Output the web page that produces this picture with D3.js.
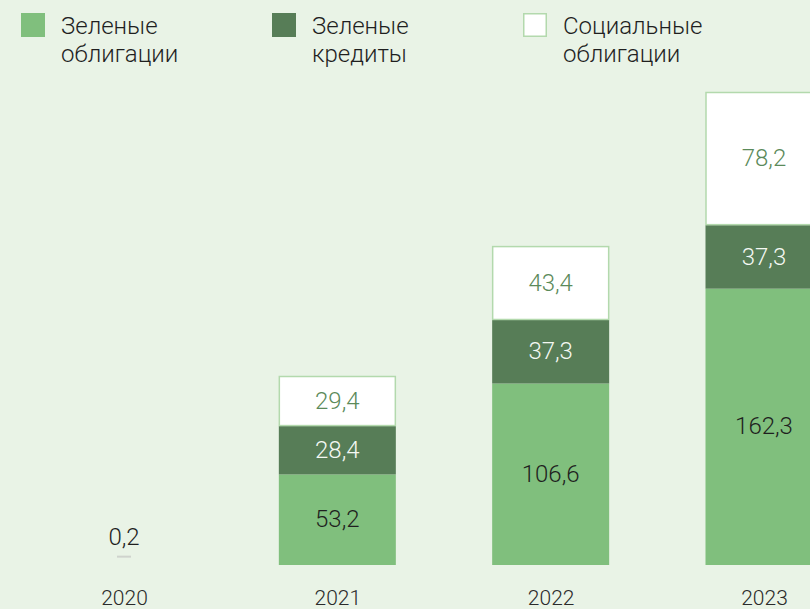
<!DOCTYPE html>
<html>
<head>
<meta charset="utf-8">
<script src="https://cdn.jsdelivr.net/npm/d3@7"></script>
<style>
  html, body { margin: 0; padding: 0; background: #e9f3e6; }
  svg { display: block; font-family: Roboto, "Noto Sans", sans-serif; }
</style>
</head>
<body>
<svg id="chart" width="810" height="609"></svg>
<script>
// Годы и объёмы по видам инструментов
const years = ["2020", "2021", "2022", "2023"];
const greenBonds = [0.2, 53.2, 106.6, 162.3];
const greenLoans = [0, 28.4, 37.3, 37.3];
const socialBonds = [0, 29.4, 43.4, 78.2];
const seriesNames = [["Зеленые", "облигации"], ["Зеленые", "кредиты"], ["Социальные", "облигации"]];

const colors = {
  bg: "#e9f3e6",
  green: "#80bf7d",
  dark: "#577d57",
  white: "#ffffff",
  border: "#b3d9ad"
};

const fmt = v => String(v).replace(".", ",");

const svg = d3.select("#chart");
svg.append("rect").attr("width", 810).attr("height", 609).attr("fill", colors.bg);

const x = d3.scalePoint().domain(years).range([124, 764]);
const y = d3.scaleLinear().domain([0, 277.8]).range([565, 92]);
const barW = 117;

const rows = years.map((yr, i) => ({ year: yr, g: greenBonds[i], k: greenLoans[i], s: socialBonds[i] }));
const stack = d3.stack().keys(["g", "k", "s"])(rows);

const segStyle = {
  g: { fill: colors.green, stroke: "none", text: "#1f1f1f" },
  k: { fill: colors.dark, stroke: "none", text: "#f4f8f3" },
  s: { fill: colors.white, stroke: colors.border, text: "#5b8a5a" }
};

stack.forEach(layer => {
  const st = segStyle[layer.key];
  const key = layer.key;
  const g = svg.append("g");
  layer.forEach(d => {
    const v = d.data[key];
    const yr = d.data.year;
    if (v <= 0) return;
    const h = y(d[0]) - y(d[1]);
    if (h < 3) {
      // очень малое значение: короткая риска и подпись над ней
      g.append("rect")
        .attr("x", x(yr) - 7).attr("y", y(d[1]) - 9)
        .attr("width", 14).attr("height", 2)
        .attr("fill", "#cfd3cd");
      g.append("text")
        .attr("x", x(yr)).attr("y", y(d[1]) - 20)
        .attr("text-anchor", "middle")
        .attr("font-size", 24)
        .attr("font-weight", 300)
        .attr("fill", "#1f1f1f")
        .text(fmt(v));
      return;
    }
    const s = st.stroke !== "none";
    g.append("rect")
      .attr("x", x(yr) - barW / 2 + (s ? 0.5 : 0))
      .attr("y", y(d[1]) + (s ? 0.5 : 0))
      .attr("width", barW - (s ? 1 : 0))
      .attr("height", h - (s ? 1 : 0))
      .attr("fill", st.fill)
      .attr("stroke", st.stroke)
      .attr("stroke-width", 1.5);
    g.append("text")
      .attr("x", x(yr))
      .attr("y", (y(d[0]) + y(d[1])) / 2 - 1)
      .attr("dy", "0.36em")
      .attr("text-anchor", "middle")
      .attr("font-size", 24)
      .attr("font-weight", 300)
      .attr("fill", st.text)
      .text(fmt(v));
  });
});

// Подписи годов
const xAxis = d3.axisBottom(x).tickSize(0).tickPadding(0);
const ax = svg.append("g").attr("transform", "translate(0,597)").call(xAxis);
ax.select(".domain").remove();
ax.selectAll("text")
  .attr("font-size", 21)
  .attr("font-weight", 300)
  .attr("fill", "#2b2b2b")
  .attr("dy", "0.36em")
  .attr("font-family", "Roboto, sans-serif");

// Легенда
const legendX = [21, 272, 523];
const legendFill = [colors.green, colors.dark, colors.white];
seriesNames.forEach((lines, i) => {
  const lg = svg.append("g").attr("transform", `translate(${legendX[i]},13)`);
  lg.append("rect")
    .attr("x", i === 2 ? 0.75 : 0).attr("y", i === 2 ? 0.75 : 0)
    .attr("width", i === 2 ? 22.5 : 24).attr("height", i === 2 ? 22.5 : 24)
    .attr("fill", legendFill[i])
    .attr("stroke", i === 2 ? colors.border : "none")
    .attr("stroke-width", 1.5);
  lines.forEach((t, j) => {
    lg.append("text")
      .attr("x", 40).attr("y", 21 + j * 28)
      .attr("font-size", 24)
      .attr("font-weight", 300)
      .attr("fill", "#1f1f1f")
      .text(t);
  });
});
</script>
</body>
</html>
